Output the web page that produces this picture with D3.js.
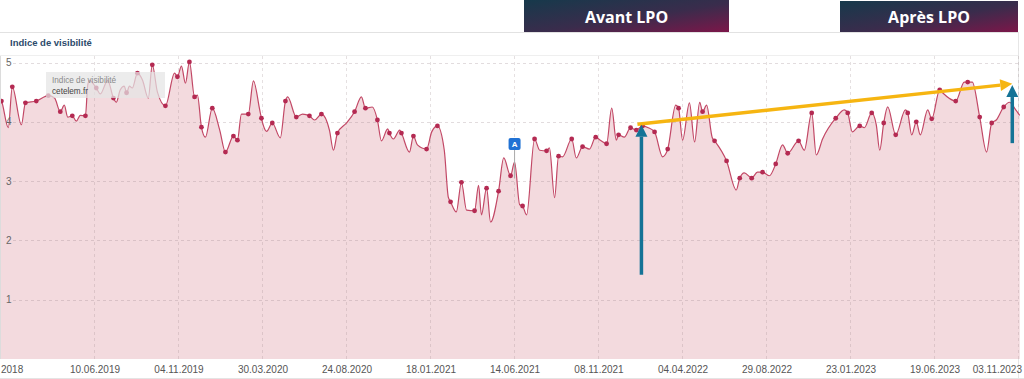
<!DOCTYPE html>
<html>
<head>
<meta charset="utf-8">
<script src="https://cdn.jsdelivr.net/npm/d3@7"></script>
<style>
  html, body { margin: 0; padding: 0; background: #fff; }
  svg { display: block; }
</style>
</head>
<body>
<svg id="chart" width="1024" height="379"></svg>
<script>
// ---- data (days since 24.12.2018, visibility index, marker flag) ----
const days = [3,6,18,25,41,48,67,88,99,109,116,122,130,137,144,153,157,160,172,179,192,202,207,214,221,225,230,235,244,253,263,270,279,293,309,314,321,328,335,344,349,356,363,375,388,398,412,419,426,438,447,458,461,470,480,494,503,507,522,533,545,554,566,580,587,594,610,624,636,643,655,664,671,682,685,692,703,706,720,727,734,750,759,769,781,788,792,802,811,820,834,841,846,855,862,876,885,897,904,913,918,925,939,948,960,965,974,981,988,1004,1012,1023,1035,1046,1054,1065,1074,1082,1086,1096,1107,1117,1128,1138,1149,1163,1172,1186,1191,1198,1210,1219,1228,1233,1240,1250,1254,1275,1292,1298,1306,1319,1329,1338,1350,1361,1373,1382,1401,1411,1424,1432,1443,1466,1481,1487,1495,1508,1516,1529,1537,1543,1550,1557,1571,1588,1592,1599,1607,1614,1627,1634,1648,1653,1676,1691,1697,1705,1718,1730,1739,1747,1760,1770,1781,1788];
const values = [4.38,4.35,3.90,4.59,3.95,4.32,4.35,4.44,4.40,4.17,4.28,4.08,4.10,4.01,4.11,4.10,4.62,4.70,4.57,4.47,4.70,4.40,4.33,4.54,4.60,4.49,4.60,4.57,4.82,4.70,4.40,4.96,4.50,4.27,4.82,4.76,4.94,4.65,5.01,4.42,4.45,3.91,3.74,4.23,3.86,3.49,3.76,3.69,4.13,4.13,4.69,4.20,4.06,3.84,3.98,3.73,4.35,4.42,4.08,4.13,4.10,4.03,4.13,3.86,3.52,3.81,3.98,4.17,4.42,4.23,4.25,4.03,3.68,3.88,3.81,3.71,3.86,3.81,3.49,3.76,3.61,3.54,3.83,3.93,3.52,2.73,2.65,2.48,2.98,2.51,2.50,2.93,2.43,2.88,2.31,2.83,3.39,3.09,3.32,2.60,2.58,2.43,3.71,3.52,3.51,3.56,2.72,3.42,3.41,3.71,3.39,3.58,3.54,3.74,3.69,3.63,4.23,3.69,3.78,3.74,3.90,3.86,3.93,3.90,3.83,3.41,3.54,4.28,4.23,3.69,4.32,3.66,4.33,4.17,4.28,3.73,3.68,3.34,2.85,3.05,3.14,3.05,3.15,3.15,3.09,3.29,3.61,3.47,3.68,3.52,4.15,3.44,3.71,4.06,4.20,4.15,3.83,3.93,3.90,4.15,3.95,3.52,3.98,4.25,3.78,4.20,4.15,3.78,4.00,3.78,4.20,4.05,4.54,4.49,4.35,4.67,4.67,4.67,4.08,3.49,3.98,4.03,4.25,4.33,4.20,4.11];
const dots = [0,1,0,1,0,1,1,1,0,1,0,0,1,0,0,1,0,0,1,0,0,1,0,0,0,1,0,0,1,0,0,1,0,1,0,1,0,0,1,1,0,1,0,1,0,1,1,1,0,1,0,0,1,0,1,0,1,0,1,0,1,0,1,0,0,1,0,1,0,1,0,1,0,0,1,0,0,1,0,1,0,1,0,1,0,0,1,0,1,0,1,0,0,1,0,1,0,1,0,0,1,0,1,0,1,0,0,1,0,1,0,1,0,1,0,1,0,0,1,0,1,1,1,0,1,0,1,0,1,0,0,0,0,1,0,0,1,1,0,1,0,1,0,1,0,1,0,1,1,0,1,0,0,1,0,1,0,1,0,1,0,0,1,0,1,0,1,0,1,0,0,1,1,0,1,0,1,0,1,0,1,0,1,0];

const yTicks = [1, 2, 3, 4, 5];
const xTickLabels = ["10.06.2019","04.11.2019","30.03.2020","24.08.2020","18.01.2021","14.06.2021","08.11.2021","04.04.2022","29.08.2022","23.01.2023","19.06.2023"];
const edgeLabels = ["2018", "03.11.2023"];
const title = "Indice de visibilité";
const legendLines = ["Indice de visibilité", "cetelem.fr"];
const phaseLabels = ["Avant LPO", "Après LPO"];
// annotation anchors (days, values)
const arrowUp1 = {day: 1126, from: 1.42, to: 3.95};
const arrowUp2 = {day: 1775, from: 3.64, to: 4.62};
const trend = {d0: 1119, v0: 3.96, d1: 1775, v1: 4.64};
const eventMarker = {day: 904, value: 3.05, label: "A"};

// ---- scales ----
const start = new Date(Date.UTC(2018, 11, 24));
const toDate = d => d3.utcDay.offset(start, d);
const parse = d3.utcParse("%d.%m.%Y");
const x = d3.scaleUtc().domain([start, toDate(1785)]).range([-2, 1018]);
const y = d3.scaleLinear().domain([0, 5]).range([359, 62.5]);

const data = days.map((d, i) => ({date: toDate(d), v: values[i], dot: dots[i]}));

const svg = d3.select("#chart");
const defs = svg.append("defs");
const FONT = "Liberation Sans, Arial, sans-serif";

// gradient for phase boxes
const grad = defs.append("linearGradient").attr("id", "lpo").attr("x1", "0%").attr("y1", "0%").attr("x2", "100%").attr("y2", "100%");
grad.append("stop").attr("offset", "0%").attr("stop-color", "#16394b");
grad.append("stop").attr("offset", "55%").attr("stop-color", "#3a2c4c");
grad.append("stop").attr("offset", "100%").attr("stop-color", "#7c1649");

defs.append("clipPath").attr("id", "plotclip").append("rect").attr("x", 1).attr("y", 56).attr("width", 1023).attr("height", 303.5);

// panel borders
svg.append("line").attr("x1", 0).attr("x2", 1018).attr("y1", 32.5).attr("y2", 32.5).attr("stroke", "#e2e2e2");
svg.append("line").attr("x1", 1018.5).attr("x2", 1018.5).attr("y1", 32).attr("y2", 379).attr("stroke", "#e6e6e6");
svg.append("line").attr("x1", 0).attr("x2", 1018).attr("y1", 55.5).attr("y2", 55.5).attr("stroke", "#efefef");
svg.append("line").attr("x1", 0).attr("x2", 1024).attr("y1", 378.5).attr("y2", 378.5).attr("stroke", "#e4e4e4");
svg.append("line").attr("x1", 0.5).attr("x2", 0.5).attr("y1", 56).attr("y2", 359).attr("stroke", "#dcdcdc");

svg.append("text").attr("x", 10).attr("y", 46).text(title)
  .attr("font-family", FONT).attr("font-size", 9.5).attr("font-weight", "bold").attr("fill", "#2c4a6b");

// plot area
const plot = svg.append("g").attr("clip-path", "url(#plotclip)");
const area = d3.area().x(d => x(d.date)).y0(y(0)).y1(d => y(d.v)).curve(d3.curveMonotoneX);
const line = d3.line().x(d => x(d.date)).y(d => y(d.v)).curve(d3.curveMonotoneX);
plot.append("path").datum(data).attr("d", area).attr("fill", "#f3dade");

// grid
const tickDates = xTickLabels.map(parse);
plot.selectAll(".vgrid").data(tickDates.concat([d3.utcDay.offset(tickDates[tickDates.length-1], 147)])).join("line")
  .attr("x1", d => Math.round(x(d)) + 0.5).attr("x2", d => Math.round(x(d)) + 0.5)
  .attr("y1", 56).attr("y2", 359)
  .attr("stroke", "rgba(150,130,135,0.25)").attr("stroke-dasharray", "3,3");
plot.selectAll(".hgrid").data(yTicks).join("line")
  .attr("x1", 13).attr("x2", 1018)
  .attr("y1", d => Math.round(y(d)) + 0.5).attr("y2", d => Math.round(y(d)) + 0.5)
  .attr("stroke", "rgba(150,130,135,0.28)").attr("stroke-dasharray", "3,3");

plot.append("path").datum(data).attr("d", line).attr("fill", "none").attr("stroke", "#c24866").attr("stroke-width", 1.2);
plot.selectAll(".dot").data(data.filter(d => d.dot)).join("circle")
  .attr("cx", d => x(d.date)).attr("cy", d => y(d.v)).attr("r", 2.4).attr("fill", "#b42a52");

// y labels
svg.selectAll(".ylab").data(yTicks).join("text")
  .attr("x", 6).attr("y", d => y(d) + 3.5).text(d => d)
  .attr("font-family", FONT).attr("font-size", 10).attr("fill", "#666");

// x labels
svg.selectAll(".xlab").data(tickDates).join("text")
  .attr("x", d => x(d) + 1).attr("y", 373).attr("text-anchor", "middle")
  .text((d, i) => xTickLabels[i])
  .attr("font-family", FONT).attr("font-size", 10).attr("fill", "#555");
svg.append("text").attr("x", 1).attr("y", 373).text(edgeLabels[0])
  .attr("font-family", FONT).attr("font-size", 10).attr("fill", "#555");
svg.append("text").attr("x", 1022).attr("y", 373).attr("text-anchor", "end").text(edgeLabels[1])
  .attr("font-family", FONT).attr("font-size", 10).attr("fill", "#555");

// legend tooltip box
svg.append("rect").attr("x", 46).attr("y", 72).attr("width", 119).attr("height", 26).attr("fill", "#e4e4e4").attr("opacity", 0.72);
svg.append("text").attr("x", 52).attr("y", 83).text(legendLines[0])
  .attr("font-family", FONT).attr("font-size", 8.2).attr("fill", "#8a8a8a");
svg.append("text").attr("x", 52).attr("y", 94).text(legendLines[1])
  .attr("font-family", FONT).attr("font-size", 8.2).attr("fill", "#444");

// event marker "A"
const ex = x(toDate(eventMarker.day));
svg.append("line").attr("x1", ex).attr("x2", ex).attr("y1", 149).attr("y2", y(eventMarker.value)).attr("stroke", "#aaa").attr("stroke-width", 1);
svg.append("rect").attr("x", ex - 6).attr("y", 138).attr("width", 12).attr("height", 12).attr("rx", 2).attr("fill", "#2172d4");
svg.append("text").attr("x", ex).attr("y", 147).attr("text-anchor", "middle").text(eventMarker.label)
  .attr("font-family", FONT).attr("font-size", 8).attr("font-weight", "bold").attr("fill", "#fff");

// phase boxes
const boxes = [{x0: 524, x1: 729, y0: 0}, {x0: 840, x1: 1018, y0: 1}];
boxes.forEach((b, i) => {
  svg.append("rect").attr("x", b.x0).attr("y", b.y0).attr("width", b.x1 - b.x0).attr("height", 32 - b.y0).attr("fill", "url(#lpo)");
  svg.append("text").attr("x", (b.x0 + b.x1) / 2).attr("y", 23).attr("text-anchor", "middle").text(phaseLabels[i])
    .attr("font-family", "Open Sans, sans-serif").attr("font-size", 16).attr("font-weight", 700).attr("fill", "#fff");
});

// arrows
function arrow(x0, y0, x1, y1, color, w, head) {
  const ang = Math.atan2(y1 - y0, x1 - x0);
  const bx = x1 - head * Math.cos(ang), by = y1 - head * Math.sin(ang);
  svg.append("line").attr("x1", x0).attr("y1", y0).attr("x2", bx).attr("y2", by)
    .attr("stroke", color).attr("stroke-width", w);
  const hw = head * 0.5;
  const px = -Math.sin(ang), py = Math.cos(ang);
  svg.append("path").attr("d", `M${x1},${y1}L${bx + px * hw},${by + py * hw}L${bx - px * hw},${by - py * hw}Z`).attr("fill", color);
}
arrow(x(toDate(trend.d0)), y(trend.v0), x(toDate(trend.d1)), y(trend.v1), "#f6b511", 3.5, 12);
arrow(x(toDate(arrowUp1.day)), y(arrowUp1.from), x(toDate(arrowUp1.day)), y(arrowUp1.to), "#147396", 3.5, 12);
arrow(x(toDate(arrowUp2.day)), y(arrowUp2.from), x(toDate(arrowUp2.day)), y(arrowUp2.to), "#147396", 3.5, 12);
</script>
</body>
</html>
